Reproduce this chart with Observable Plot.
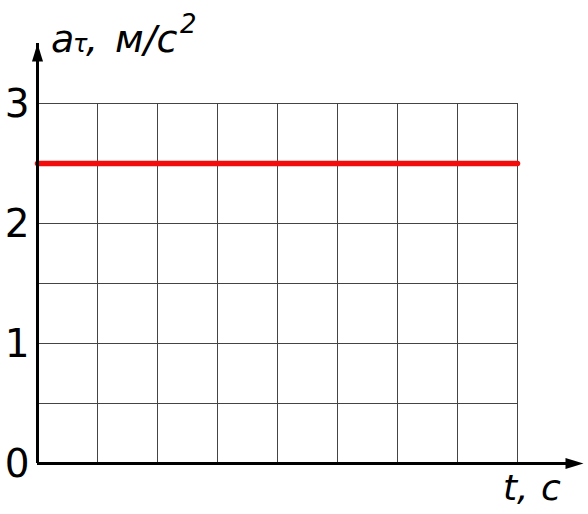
<!DOCTYPE html>
<html>
<head>
<meta charset="utf-8">
<script src="https://cdn.jsdelivr.net/npm/d3@7"></script>
<script src="https://cdn.jsdelivr.net/npm/@observablehq/plot@0.6"></script>
<style>
  html, body { margin: 0; padding: 0; background: #fff; }
</style>
</head>
<body>
<div id="chart"></div>
<script>
// Data
const times = [0, 8];
const accel = [2.5, 2.5];
const xGrid = [1, 2, 3, 4, 5, 6, 7, 8];
const yGrid = [0.5, 1, 1.5, 2, 2.5, 3];
const yTicks = [0, 1, 2, 3];
const yAxisEnd = 3.5;
const xAxisEnd = 9.1;
const yLabel = ["a", "τ", ",", "м/с", "2"];
const xLabel = ["t,", "с"];

const font = "DejaVu Sans, Verdana, sans-serif";

const arrowHead = {
  draw(ctx) {
    ctx.moveTo(0, 0);
    ctx.lineTo(5.5, 18);
    ctx.lineTo(-5.5, 18);
    ctx.closePath();
  }
};

const lineData = times.map((t, i) => ({t, a: accel[i]}));

const plot = Plot.plot({
  width: 588,
  height: 514,
  marginLeft: 37,
  marginRight: 71,
  marginTop: 103,
  marginBottom: 51,
  x: {domain: [0, 8], axis: null, label: null},
  y: {domain: [0, 3], axis: null, label: null},
  style: {fontFamily: font, background: "#fff"},
  marks: [
    Plot.ruleX(xGrid, {x: d => d, y1: 0, y2: 3, stroke: "#444", strokeWidth: 1}),
    Plot.ruleY(yGrid, {y: d => d, x1: 0, x2: 8, stroke: "#444", strokeWidth: 1}),
    Plot.line(lineData, {x: "t", y: "a", stroke: "#f20c0c", strokeWidth: 5.5}),
    Plot.ruleX([0], {x: d => d, y1: 0, y2: yAxisEnd, stroke: "#000", strokeWidth: 3}),
    Plot.ruleY([0], {y: d => d, x1: 0, x2: xAxisEnd - 0.2, stroke: "#000", strokeWidth: 3}),
    Plot.dot([0], {x: 0, y: yAxisEnd, symbol: arrowHead, fill: "#000", stroke: null, r: 5}),
    Plot.dot([0], {x: xAxisEnd, y: 0, symbol: arrowHead, fill: "#000", stroke: null, r: 5, rotate: 90}),
    Plot.axisY({ticks: yTicks, tickSize: 0, tickPadding: 8, fontSize: 39, fill: "#000", dy: 1, label: null, tickFormat: d => String(d)})
  ]
});

document.getElementById("chart").appendChild(plot);

const svg = d3.select(plot);
const sx = plot.scale("x");
const sy = plot.scale("y");

const x0 = sx.apply(0);
const yTop = sy.apply(yAxisEnd);

// y label with subscript and superscript
const t1 = svg.append("text")
  .attr("y", yTop + 9)
  .attr("text-anchor", "start")
  .attr("font-family", font)
  .attr("font-style", "italic")
  .attr("font-size", 38)
  .attr("fill", "#000");
t1.append("tspan").attr("x", x0 + 14).text(yLabel[0]);
t1.append("tspan").attr("x", x0 + 36).attr("font-size", 24).text(yLabel[1]);
t1.append("tspan").attr("x", x0 + 49).text(yLabel[2]);
t1.append("tspan").attr("x", x0 + 78).text(yLabel[3]);
t1.append("tspan").attr("x", x0 + 143).attr("font-size", 26).attr("dy", -19).text(yLabel[4]);

// x label
const x1 = sx.apply(8);
const t2 = svg.append("text")
  .attr("y", sy.apply(0) + 37)
  .attr("text-anchor", "start")
  .attr("font-family", font)
  .attr("font-style", "italic")
  .attr("font-size", 36)
  .attr("fill", "#000");
t2.append("tspan").attr("x", x1 - 14).text(xLabel[0]);
t2.append("tspan").attr("x", x1 + 24).text(xLabel[1]);
</script>
</body>
</html>
